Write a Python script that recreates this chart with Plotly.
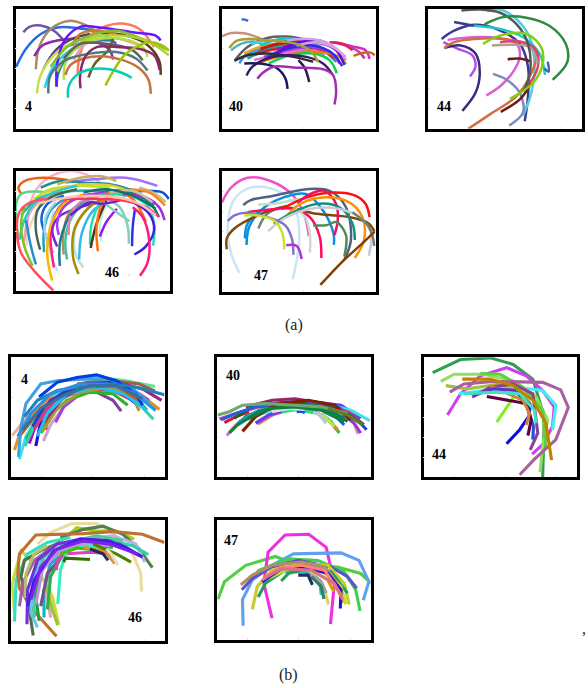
import plotly.graph_objects as go

W, H = 588, 688

# Each curve: (colour, xs, ys). Values are read in the panel's own units.
a4_curves = [
("#6a55a8",[67,85,120,160,190],[95,78,74,90,120]),
("#2a6ae0",[45,75,120,170,230,300,350],[200,145,100,80,82,95,130]),
("#a88a64",[105,115,150,205,250,300],[208,140,85,60,70,100]),
("#9028b0",[100,125,170,230,290,330,340],[168,135,120,115,125,150,178]),
("#5c3e14",[485,480,440,380,300],[225,180,130,105,95]),
("#5a3f6e",[128,165,215,270],[208,150,115,100]),
("#a070e0",[135,180,230,300],[195,145,130,125]),
("#ff7a5c",[232,240,265,320,370,420,465],[220,160,110,75,68,85,140]),
("#c8e050",[108,120,160,200,260],[282,225,165,135,110]),
("#22d4f0",[132,150,190,240],[265,215,165,130]),
("#2080a0",[168,175,210,260,340],[262,215,160,125,120]),
("#c08028",[215,240,290,350],[135,100,90,100]),
("#6a14ff",[168,170,195,240,300,400,470,485],[260,190,115,78,80,95,105,120]),
("#80c030",[150,200,270,350,430,510],[200,140,105,90,115,150]),
("#e8a0b0",[220,250,300,360,420],[180,135,115,115,135]),
("#b4d030",[170,210,280,370,450,510],[215,150,110,105,125,165]),
("#b0e040",[190,195,230,290,370,430,445],[240,190,140,115,115,140,170]),
("#606060",[190,240,320,400,430],[175,130,130,150,180]),
("#6f5a20",[265,285,325,340],[233,190,150,115]),
("#4f7a80",[143,150,195,270,350,410,445],[282,225,180,160,155,175,212]),
("#c8703c",[455,448,420,370,310,250,210,195],[283,240,205,180,168,175,195,225]),
("#8a2a6a",[241,240,255,290,350,420,465,482],[266,225,170,140,140,145,165,210]),
("#9dc40f",[317,340,370,400,450,490,510],[257,215,170,145,125,135,150]),
("#00d2b0",[203,205,230,275,330,370,397],[295,260,225,207,208,220,234]),
]

a40_curves = [
("#3a6ad8",[92,102,112],[55,56,60]),
("#c89080",[32,60,100,140,170],[107,97,98,110,125]),
("#c03ac0",[467,450,410,370],[175,155,135,125]),
("#d030c0",[482,470,430,390],[176,150,138,128]),
("#e0205a",[360,400,430],[125,130,150]),
("#606060",[72,110,170,230,290],[180,140,112,108,118]),
("#50b0c8",[60,90,140,180],[150,130,125,150]),
("#40d0e0",[120,180,260,310],[130,120,125,135]),
("#4090e0",[85,110,170,250],[190,160,140,130]),
("#30a0e0",[100,170,250,320],[170,140,120,128]),
("#f0a020",[100,160,210,290],[160,135,130,130]),
("#20c0d0",[150,210,280,340],[135,115,118,130]),
("#b02020",[150,220,300],[145,125,122]),
("#c02010",[130,190,280,360,395],[165,135,125,135,160]),
("#a0a0e0",[220,290,370,410],[140,130,140,180]),
("#20a0a0",[110,180,260,330,380],[175,145,135,145,185]),
("#e070e0",[130,210,290,345],[180,160,150,165]),
("#ff60c0",[190,260,340],[155,145,155]),
("#d02040",[140,200,270,340,375],[160,145,140,150,175]),
("#f08000",[140,220,320,390,410],[190,165,155,170,192]),
("#10d050",[175,240,310,360,382],[190,165,160,180,220]),
("#a040e0",[160,230,300,360,390],[170,150,140,155,190]),
("#8020c0",[200,260,330,385],[150,125,120,150]),
("#2a30e0",[170,230,310,370,398],[172,145,135,160,198]),
("#d0a0f0",[230,300,360,400],[120,115,130,165]),
("#5a10e0",[190,240,320,380,405],[170,135,125,150,195]),
("#e0a0e0",[260,320,370,410],[135,125,140,170]),
("#303030",[70,110,170,250,310],[182,165,160,170,185]),
("#3a1a6a",[107,125,170,230,290,340,368],[227,200,175,165,170,190,222]),
("#2a1a60",[298,285,265],[247,205,180]),
("#1a1a60",[232,225,200,160,100],[268,235,205,192,190]),
("#a030b0",[375,380,370,340,260,190,155,140],[316,270,225,208,203,200,220,237]),
("#a8a030",[55,75,110,170,250,300,325],[143,122,115,120,128,150,185]),
("#d06a10",[433,460,485,498],[167,158,157,165]),
]

a44_curves = [
("#3c3a90",[130,190],[63,75]),
("#3c3a90",[92,130,190,260,330,355,355,345],[115,90,72,85,130,200,290,367]),
("#50d0e0",[230,270,320,360,375,365,340],[30,25,55,110,200,280,350]),
("#20c8c8",[190,270,340,390,407],[75,85,110,160,225]),
("#b050e8",[97,140,185,195,178],[125,145,165,200,230]),
("#3c2a7a",[155,195,208,195,150,100],[335,280,220,160,135,143]),
("#d860d0",[110,190,260,320,330,310,270,228],[118,110,112,130,170,215,260,288]),
("#8088c0",[248,290,330,340,298],[222,240,280,340,380]),
("#4060c0",[415,418,405],[185,215,205]),
("#d07040",[173,240,320,365,380,360,280,190,130,100],[390,345,290,220,170,135,115,115,125,143]),
("#e04070",[270,340,380,385,360,330],[125,125,150,200,250,280]),
("#b0a090",[245,300,360,385],[135,133,140,190]),
("#682010",[293,330,365],[177,175,185]),
("#682010",[272,330,365],[338,300,250]),
("#505860",[152,210,270,320,355,362,345],[28,25,35,70,130,210,270]),
("#2e8b40",[223,280,350,420,470,475,430],[70,48,50,75,130,185,240]),
("#80d010",[218,270,350,395,400,370,300],[130,105,100,140,190,250,298]),
]

a46_curves = [
("#ffb0c0",[78,90,130,200,270,330],[230,120,60,30,45,90]),
("#f06010",[60,52,75,130,190,240],[98,80,58,50,55,65]),
("#60d090",[52,45,60,100,140],[235,130,100,92,95]),
("#a070ff",[195,280,380,475],[65,55,50,75]),
("#0a50e0",[510,490,440,400],[115,95,90,95]),
("#c0c080",[500,470,420],[125,100,80]),
("#ff8020",[498,450,390,330],[135,95,85,90]),
("#1a9088",[120,180,250,330,410,465],[80,60,65,70,95,135]),
("#c8b060",[170,240,300,350],[70,50,45,60]),
("#c0e020",[100,150,230,330],[115,85,75,80]),
("#e0d040",[120,190,260,340,420],[100,80,70,75,105]),
("#20b0a0",[60,110,180,280,380],[165,115,95,90,105]),
("#f0a0b0",[70,85,120,190],[245,160,120,95]),
("#ffd0c0",[75,90,130,190],[260,190,125,100]),
("#20d0c0",[55,70,100,160,230],[240,180,130,95,75]),
("#2090d0",[105,90,75],[315,260,180]),
("#80c020",[95,70,60,70],[320,260,190,140]),
("#406858",[118,105,110,150,230],[270,210,150,110,85]),
("#1060e0",[135,122,140,190],[225,175,130,105]),
("#20a0c0",[130,130,150,200],[278,210,150,110]),
("#c0e0ff",[170,150,145,160],[335,280,220,150]),
("#a0d8e0",[160,135,135,165],[280,230,170,125]),
("#ff2080",[160,150,170,210],[325,220,150,110]),
("#f8b800",[155,140,150,190,250],[365,290,200,130,100]),
("#8020e0",[170,155,175,240,300],[260,210,170,140,125]),
("#b09060",[190,188,205,260],[285,230,160,115]),
("#1a7a88",[178,180,220,290,370,450,480],[320,240,150,100,90,125,170]),
("#a040e0",[175,170,190,250,330],[225,190,140,105,95]),
("#40c0a0",[200,195,215,270,350],[300,240,170,115,95]),
("#e080c0",[205,210,240,300],[225,170,125,105]),
("#c0e0d0",[250,225,225,255],[325,280,210,150]),
("#a88a00",[235,218,225,280,340],[345,290,200,130,110]),
("#30b8f0",[237,245,280,320],[300,220,150,125]),
("#20e0b0",[270,275,300,350,440,465,462],[255,190,130,100,130,190,258]),
("#c0f0e0",[305,300,320],[245,190,130]),
("#5a3010",[272,290,320],[265,190,120]),
("#ff7010",[294,290,310,340,400,440],[275,200,120,90,115,185]),
("#a010f0",[300,320,352],[230,185,145]),
("#80d0c0",[388,385,360,310],[252,200,140,110]),
("#80d0c0",[390,350,310],[183,155,125]),
("#3030f0",[398,400,407],[260,200,145]),
("#4020e0",[405,440,465,450,400],[285,260,210,160,125]),
("#ff1a80",[422,445,450,430,400],[350,310,240,170,140]),
("#a030e0",[497,480,440,370],[180,140,110,100]),
("#6a20d0",[210,270,300,360],[165,125,130,120]),
("#d0c090",[330,400,460],[95,90,125]),
("#107070",[250,320,400,470],[95,85,105,145]),
("#ff3060",[480,440,370,280,190],[170,140,120,115,115]),
("#ffc0b0",[470,420,350,270,170,110],[165,130,110,105,115,130]),
("#ff5060",[158,100,60,47,55,90,140],[395,335,280,210,155,125,115]),
("#c8e080",[388,391],[348,348]),
]

a47_curves = [
("#f050c8",[32,60,110,180,250,285,297],[125,80,50,60,105,170,228]),
("#c8e6f6",[85,60,50,70,120,190,250,268,248],[340,280,190,115,80,85,130,230,360]),
("#50607e",[97,120,190,290,360,410,425,405],[133,118,105,85,90,140,240,300]),
("#0a90e0",[107,115,150,220,290,340,372,373],[255,200,150,110,100,150,220,255]),
("#0a90e0",[102,110,150],[235,190,150]),
("#c8dcc8",[142,200,270,320],[132,128,115,110]),
("#708870",[143,170,230],[205,160,135]),
("#804800",[47,47,70,130,220,320,420,480,497],[268,235,205,170,140,160,170,190,215]),
("#ff1010",[215,290,370,440,470,482],[145,110,95,105,130,170]),
("#ff0a60",[110,200,250,300,330,335],[155,145,145,170,230,295]),
("#f01060",[265,300,345,380,385,375],[125,100,90,130,180,225]),
("#ccdccc",[300,300,285,250],[278,220,170,140]),
("#ff9000",[228,270,340,420,460,465,437],[168,130,110,125,170,240,295]),
("#109080",[190,240,320,390,430,437],[190,160,130,140,190,240]),
("#508858",[405,410,380,350,310],[290,225,185,195,195]),
("#c8ccd8",[173,220,300,390,450,485,480],[213,175,145,145,170,215,287]),
("#8870d0",[50,70,110,170,225,245,250],[182,165,157,170,195,235,285]),
("#c8e030",[222,215,190,140,100],[268,215,180,165,165]),
("#b030d0",[228,260,275],[256,258,298]),
("#c8cce0",[480,490,497],[287,250,250]),
("#708070",[497,480,430],[258,200,155]),
("#804000",[332,400,460,497],[377,305,250,215]),
]

b4_curves = [
("#f0b0a0",[33,60,100,150,190],[258,225,180,145,125]),
("#e09020",[40,60,110,170,260,340,420,482],[302,240,170,125,95,95,130,178]),
("#40e0f0",[55,75,115,170,240,330,420,470],[330,260,190,130,100,100,140,182]),
("#60e0a0",[230,300,380,468],[80,80,90,108]),
("#a06040",[230,320,420,468],[100,88,100,122]),
("#d0a0d0",[128,150,190,240,320],[275,225,170,130,115]),
("#c000c0",[85,110,150,210,290],[282,210,150,120,105]),
("#a040e0",[165,190,240,310,370],[217,170,130,115,130]),
("#8040a0",[365,340,290,230],[183,150,125,125]),
("#30b030",[120,150,200,270,340,385],[250,195,150,125,130,165]),
("#ff2020",[135,140,190,260,340,400,430],[240,190,140,115,120,150,170]),
("#1010e0",[105,120,170,250,340,410],[290,215,150,105,105,160]),
("#20c020",[75,110,160,230,310,400,440],[270,210,150,115,100,135,175]),
("#f06020",[120,160,220,300,380,415],[210,160,115,100,115,150]),
("#30d0b0",[72,100,150,220,310,400,463],[290,230,170,125,105,140,208]),
("#a0a030",[125,170,240,330,400,420],[245,175,125,110,140,182]),
("#e03080",[100,130,170,240,330,420,450],[240,190,140,105,100,130,150]),
("#a02080",[130,190,260,350,430,488],[215,140,105,95,115,150]),
("#20c0f0",[110,140,200,290,370,445],[260,190,130,110,130,180]),
("#c06020",[55,110,170,250,350,420],[260,190,140,110,105,150]),
("#2040c0",[95,130,190,260,340,420],[230,170,125,100,95,140]),
("#40a0e0",[52,60,75,120,170,250,330,400,450],[323,230,160,100,90,85,85,115,155]),
("#0040e0",[115,170,230,290,350,410,430],[140,95,80,72,90,130,165]),
("#2080c0",[70,110,170,260,340,410,497],[200,150,120,105,100,110,133]),
("#3090e0",[50,90,150,240,320,400,470],[260,190,130,100,100,125,180]),
("#3a6ea0",[65,120,190,270,350,430],[240,175,135,105,105,145]),
]

b40_curves = [
("#d070f0",[62,90,130,200],[258,225,195,175]),
("#e01040",[55,90,130],[218,200,185]),
("#e030a0",[40,90,160,240],[207,190,170,160]),
("#a02060",[120,200,270,360,420],[170,150,145,160,180]),
("#6040e0",[150,240,330,410,470],[165,155,155,165,205]),
("#40e0f0",[380,440,498],[165,180,212]),
("#d0a090",[462,450,420,370],[253,220,190,170]),
("#a030e0",[470,450,400],[250,220,180]),
("#2040e0",[488,460,400,330],[240,210,170,155]),
("#e03090",[480,430,360,280],[225,185,165,160]),
("#206060",[478,430,370,270,180],[225,190,170,160,165]),
("#208020",[70,120,190,280,370,430],[250,200,170,160,175,215]),
("#f0a0d0",[350,370,395],[190,205,240]),
("#30c030",[405,380,340,280],[250,215,190,175]),
("#e08040",[400,370,330],[240,210,185]),
("#1060e0",[420,390,340],[225,195,170]),
("#a0f060",[390,360,320],[230,200,185]),
("#c0c0e0",[365,340,300],[220,190,180]),
("#30a0a0",[100,160,240,320,390],[215,180,165,165,200]),
("#e0e020",[160,210,260],[222,190,175]),
("#50f0f0",[125,170,230],[210,190,180]),
("#e050c0",[155,200,250],[222,195,180]),
("#6040e0",[150,190,240],[220,195,180]),
("#20e080",[230,280,325],[185,178,188]),
("#2050e0",[275,290,300],[185,183,188]),
("#e0e0e0",[200,250,300],[185,175,178]),
("#206020",[85,140,220,300,380],[205,170,160,160,185]),
("#2060e0",[45,90,150,220],[210,190,170,160]),
("#008060",[95,160,240,330,420],[225,185,165,165,205]),
("#802000",[110,150,220,310,390,440],[245,200,160,150,165,210]),
("#108040",[130,190,270,350,420],[205,175,170,180,215]),
("#70a870",[35,70,110,180,270,350,430],[195,185,165,160,165,170,190]),
("#608020",[475,430,370],[225,195,175]),
]

b44_curves = [
("#30a050",[65,95,150,240,310,370,405,400],[65,50,25,20,40,85,200,385]),
("#d040f0",[110,150,210,290,350,400,435,430,400,368],[195,130,75,50,75,120,170,230,285,315]),
("#40f0f0",[145,220,320,400,440,430],[130,120,110,120,165,240]),
("#90e060",[90,130,220,310,380,415,400,392],[92,70,70,90,140,210,290,370]),
("#60d040",[210,270,340,400,410],[68,70,110,180,295]),
("#a0c040",[105,170,270,340,375],[105,115,100,130,180]),
("#a860a0",[117,160,250,400,455,478,440,375,330],[125,100,92,95,118,172,270,330,378]),
("#904090",[185,240,310,370,385,362],[140,110,100,130,250,302]),
("#80f020",[260,290,315],[217,170,135]),
("#40d040",[335,338,320],[163,145,125]),
("#1010e0",[290,330,360,360,320],[283,240,195,160,125]),
("#2050e0",[370,372,350],[270,230,160]),
("#600040",[355,365,350,230],[258,210,160,138]),
("#d08040",[350,360,340,240],[225,190,150,105]),
("#6030d0",[190,250,320],[135,115,120]),
("#40e0c0",[160,260,330,375,380],[130,125,130,180,220]),
("#c08000",[155,240,310,370,410,427],[85,85,105,150,220,333]),
]

b46_curves = [
("#e8dca0",[110,150,215,290,340,400,425,427],[100,65,37,37,65,130,190,245]),
("#a0d020",[170,230,290,350,405],[100,50,60,60,85]),
("#508050",[180,250,310,370,420,460],[80,55,45,70,115,172]),
("#c0b0e0",[250,340,410,437],[85,75,100,155]),
("#30d0b0",[330,400,448],[90,105,132]),
("#c8dc30",[175,155,105,60,33,40],[347,260,165,120,220,310]),
("#30e0c0",[40,45,80,140,210],[337,210,130,95,80]),
("#c07030",[168,95,55,50,55,105,250,340,430,497],[382,300,235,190,130,72,68,62,70,95]),
("#507040",[97,85,60,70,120,180],[380,300,200,150,120,95]),
("#a060a0",[55,65,100,160],[290,220,150,105]),
("#70c0f0",[110,90,95,130],[355,310,210,130]),
("#40d0a0",[100,100,130,200,290,370],[325,230,140,95,75,90]),
("#b8c070",[72,75,100,140],[265,190,130,105]),
("#7030e0",[78,80,110,170,240,330,420],[345,240,150,100,85,90,135]),
("#20a040",[115,105,125,180,260],[335,260,170,120,90]),
("#e0a0c0",[150,140,150,190],[325,260,190,130]),
("#a0c040",[172,155,135,150],[348,300,220,150]),
("#10b0d0",[130,130,150,210,290],[325,240,160,110,95]),
("#705090",[120,140,200,280,360,410],[290,190,120,90,100,130]),
("#30b040",[140,150,190,260,340],[300,200,125,100,110]),
("#c090e0",[105,125,170,240,330],[285,180,125,100,105]),
("#e040c0",[168,170,190,270,340],[180,150,130,125,130]),
("#30f0c0",[172,180,200,260,310],[283,180,120,105,110]),
("#40c000",[180,230,310],[130,112,120]),
("#307000",[190,195,270],[155,143,147]),
("#e09030",[345,320,250],[160,125,110]),
("#203060",[325,310,270],[150,130,115]),
("#508000",[395,350,280],[155,130,100]),
("#e0e0c0",[355,335,320],[165,130,115]),
("#4020e0",[80,100,160,240,320,380,430],[290,210,120,85,90,110,140]),
("#8020f0",[90,120,170,250,330,415],[270,170,115,90,100,130]),
]

b47_curves = [
("#50d040",[36,55,120,210,280,400,470,503],[268,215,165,138,165,170,190,220]),
("#f030e0",[200,175,188,240,312,365,390,378],[327,220,125,72,70,110,220,345]),
("#60a0f0",[112,110,140,200,265,410,465,495,478],[350,270,210,165,130,127,150,215,272]),
("#40d050",[468,455,420,340,250,160,130],[305,240,185,150,145,180,215]),
("#6050d0",[108,140,200,280,380,430,458],[240,205,170,150,170,200,235]),
("#c8c830",[140,155,200,290,370,420,435],[300,230,180,160,165,220,285]),
("#20a060",[158,180,240,310,380,430],[262,220,180,165,185,250]),
("#b09060",[105,140,200,290,360,400,415],[225,195,165,155,170,220,280]),
("#e0d060",[372,360,330,280],[285,240,190,175]),
("#20c0c0",[350,345,300,240],[255,210,185,185]),
("#a0a0a0",[365,350,310],[250,215,190]),
("#308060",[358,350,320],[268,230,200]),
("#d0a000",[388,370,320],[245,210,180]),
("#20a050",[228,250,285],[213,190,180]),
("#203060",[323,310,280],[225,195,195]),
("#c0e020",[425,410,350,270,190],[285,230,180,165,205]),
("#2010e0",[408,410,370,300,230,170],[297,240,190,170,175,215]),
("#ff8080",[170,220,290,360,410],[210,175,165,180,255]),
("#e07080",[415,390,320,230,175],[270,220,180,175,205]),
]

panel_labels = ["4", "40", "44", "46", "47", "4", "40", "44", "46", "47"]
group_labels = ["(a)", "(b)"]

# left, right, top, bottom of each frame in window pixels; then the panel's own axis ends
panels = [
 (a4_curves,  15.5,169.5,  8.5,128.8, 43,512, 22,390,  84,322),
 (a40_curves,221.9,375.5,  8.5,128.8, 32,500, 22,390,  75,322),
 (a44_curves,427.9,581.5,  8.5,128.8, 50,518, 22,390,  98,322),
 (a46_curves, 15.5,169.5,171.2,291.1, 43,512, 30,397, 338,340),
 (a47_curves,221.9,375.5,171.2,291.5, 32,500, 30,397, 152,348),
 (b4_curves,  11.2,164.5,357.2,477.1, 30,497, 18,385,  72, 85),
 (b40_curves,217.2,370.5,357.2,477.1, 33,500, 18,385,  80, 75),
 (b44_curves,423.5,576.5,357.2,477.1, 37,503, 18,385,  85,315),
 (b46_curves, 11.2,164.5,519.9,640.5, 30,497, 26,395, 408,325),
 (b47_curves,217.2,370.5,519.9,639.8, 33,500, 26,393,  76, 90),
]

LABEL_FONT = "Times New Roman, Liberation Serif, serif"

fig = go.Figure()
layout = dict(
    width=W, height=H, autosize=False, showlegend=False,
    margin=dict(l=0, r=0, t=0, b=0), paper_bgcolor="white", plot_bgcolor="white",
)
annotations = []
for i, (curves, l, r, t, b, x0, x1, y0, y1, lx, ly) in enumerate(panels):
    n = i + 1
    sfx = "" if n == 1 else str(n)
    is_a = i < 5
    for colour, xs, ys in curves:
        fig.add_trace(go.Scatter(
            x=xs, y=ys, mode="lines", xaxis="x" + sfx, yaxis="y" + sfx, hoverinfo="skip",
            line=dict(color=colour, width=2.5 if is_a else 3.1,
                      shape="spline" if is_a else "linear", smoothing=1.0),
        ))
    common = dict(showgrid=False, zeroline=False, showticklabels=False,
                  showline=True, mirror=True, linecolor="black", linewidth=2.5,
                  ticks="inside", ticklen=2, tickcolor="#e4e4e4", tickwidth=1)
    layout["xaxis" + sfx] = dict(domain=[l / W, r / W], range=[x0, x1], anchor="y" + sfx,
                                 tickvals=[x0 + (x1 - x0) * k / 3 for k in (0.6, 1.6, 2.6)], **common)
    layout["yaxis" + sfx] = dict(domain=[1 - b / H, 1 - t / H], range=[y1, y0], anchor="x" + sfx,
                                 tickvals=[y0 + (y1 - y0) * k / 6 for k in range(1, 6)], **common)
    annotations.append(dict(x=lx, y=ly, xref="x" + sfx, yref="y" + sfx, text="<b>%s</b>" % panel_labels[i],
                            showarrow=False, font=dict(family=LABEL_FONT, size=14, color="black")))

centre = dict(xref="paper", yref="paper", showarrow=False, xanchor="center", yanchor="middle",
              font=dict(family=LABEL_FONT, size=16, color="#222"))
annotations.append(dict(x=294 / W, y=1 - 325 / H, text=group_labels[0], **centre))
annotations.append(dict(x=288 / W, y=1 - 675 / H, text=group_labels[1], **centre))
annotations.append(dict(x=584 / W, y=1 - 628 / H, text=",", **centre))
layout["annotations"] = annotations
fig.update_layout(**layout)
fig.write_html("out.html", config=dict(displayModeBar=False),
               post_script="document.body.style.margin='0';document.documentElement.style.overflow='hidden';")
